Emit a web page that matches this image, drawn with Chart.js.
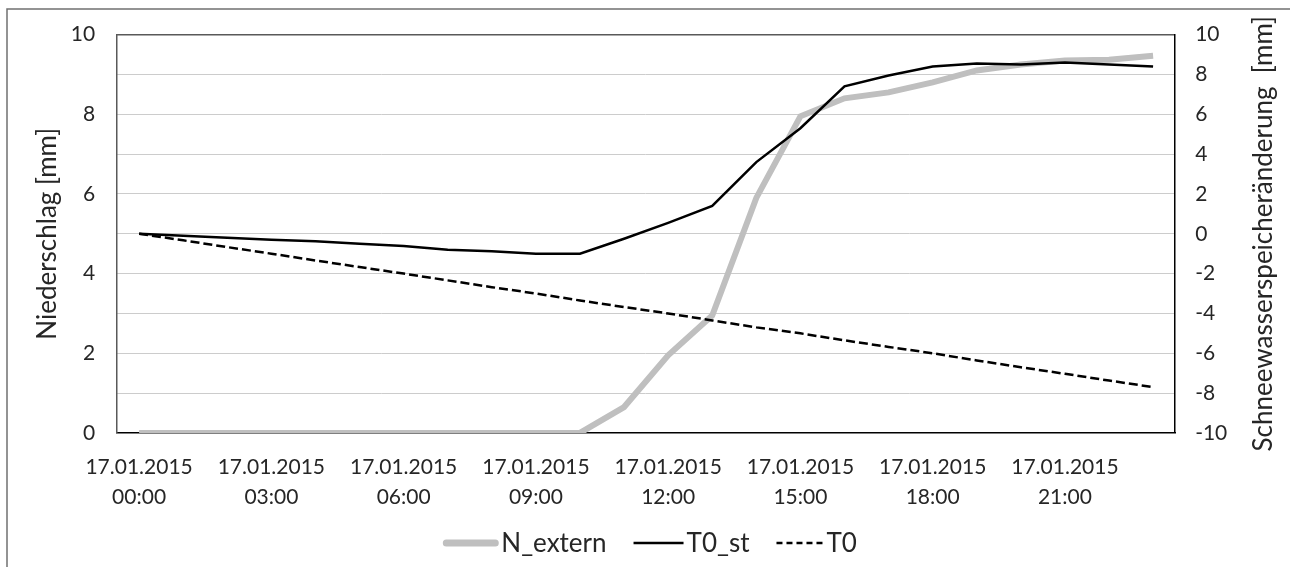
<!DOCTYPE html>
<html>
<head>
<meta charset="utf-8">
<script src="https://cdn.jsdelivr.net/npm/chart.js@4.4.1/dist/chart.umd.min.js"></script>
<style>
  html, body { margin: 0; padding: 0; background: #fff; }
  #wrap { width: 1290px; height: 567px; }
</style>
</head>
<body>
<div id="wrap"><canvas id="c" width="1290" height="567"></canvas></div>
<script>
// hourly values, 17.01.2015
const dateLabel = '17.01.2015';
const hours = ['00:00','01:00','02:00','03:00','04:00','05:00','06:00','07:00','08:00','09:00','10:00','11:00',
               '12:00','13:00','14:00','15:00','16:00','17:00','18:00','19:00','20:00','21:00','22:00','23:00'];

// left axis: Niederschlag [mm]
const nExtern = [0,0,0,0,0,0,0,0,0,0,0,0.65,1.95,2.95,5.9,7.95,8.4,8.55,8.8,9.1,9.25,9.35,9.37,9.47];

// right axis: Schneewasserspeicheränderung [mm]
const t0St = [0,-0.1,-0.2,-0.3,-0.38,-0.5,-0.62,-0.8,-0.88,-1.0,-1.0,-0.25,0.55,1.4,3.6,5.3,7.4,7.95,8.4,8.55,8.5,8.6,8.5,8.4];
const t0 = [0,-0.33,-0.67,-1.0,-1.34,-1.67,-2.0,-2.34,-2.68,-3.0,-3.35,-3.68,-4.0,-4.35,-4.7,-5.0,-5.35,-5.68,-6.0,-6.36,-6.7,-7.03,-7.37,-7.7];

const leftTitle = 'Niederschlag [mm]';
const rightTitle = 'Schneewasserspeicheränderung  [mm]';

const fontFam = 'Lato, "Open Sans", sans-serif';
const txt = '#262626';

// outer frame of the exported chart box
const framePlugin = {
  id: 'frame',
  beforeDraw(chart) {
    const ctx = chart.ctx;
    ctx.save();
    ctx.fillStyle = '#fff';
    ctx.fillRect(0, 0, chart.width, chart.height);
    ctx.strokeStyle = '#707070';
    ctx.lineWidth = 1.5;
    ctx.beginPath();
    ctx.moveTo(7, chart.height);
    ctx.lineTo(7, 9);
    ctx.lineTo(chart.width, 9);
    ctx.stroke();
    ctx.restore();
  }
};

// right title reads bottom-to-top like the left one (chart.js turns it the other way)
const rightTitlePlugin = {
  id: 'rightTitle',
  afterDraw(chart) {
    const s = chart.scales.y1;
    const ctx = chart.ctx;
    ctx.save();
    ctx.translate(s.right - 15.6, (s.top + s.bottom) / 2);
    ctx.rotate(-Math.PI / 2);
    ctx.font = '26px ' + fontFam;
    ctx.fillStyle = txt;
    ctx.textAlign = 'center';
    ctx.textBaseline = 'middle';
    ctx.fillText(rightTitle, 0, 0);
    ctx.restore();
  }
};

// legend like the excel one: line sample right next to its name
const legendPlugin = {
  id: 'xlLegend',
  afterDraw(chart) {
    const ctx = chart.ctx;
    const sets = chart.data.datasets;
    const lens = [55, 50, 47];
    ctx.save();
    ctx.font = '26px ' + fontFam;
    let total = 0;
    sets.forEach((d, i) => {
      total += lens[i] + 3 + ctx.measureText(d.label).width;
      if (i < sets.length - 1) total += 27;
    });
    const a = chart.chartArea;
    let x = (a.left + a.right) / 2 - total / 2 + 4;
    const y = 543;
    sets.forEach((d, i) => {
      ctx.beginPath();
      ctx.strokeStyle = d.borderColor;
      ctx.lineWidth = i === 0 ? 7 : 2.5;
      ctx.lineCap = i === 0 ? 'round' : 'butt';
      ctx.setLineDash(d.borderDash ? [6, 4] : []);
      ctx.moveTo(x + (i === 0 ? 3 : 0), y);
      ctx.lineTo(x + lens[i] - (i === 0 ? 3 : 0), y);
      ctx.stroke();
      x += lens[i] + 3;
      ctx.fillStyle = txt;
      ctx.textBaseline = 'middle';
      ctx.fillText(d.label, x, y + 1);
      x += ctx.measureText(d.label).width + 27;
    });
    ctx.restore();
  }
};

new Chart(document.getElementById('c'), {
  type: 'line',
  data: {
    labels: hours,
    datasets: [
      {
        label: 'N_extern',
        data: nExtern,
        yAxisID: 'y',
        borderColor: '#bfbfbf',
        backgroundColor: '#bfbfbf',
        borderWidth: 6,
        pointRadius: 0,
        tension: 0,
        order: 3
      },
      {
        label: 'T0_st',
        data: t0St,
        yAxisID: 'y1',
        borderColor: '#000',
        backgroundColor: '#000',
        borderWidth: 2.5,
        pointRadius: 0,
        tension: 0,
        order: 1
      },
      {
        label: 'T0',
        data: t0,
        yAxisID: 'y1',
        borderColor: '#000',
        backgroundColor: '#000',
        borderWidth: 2.5,
        borderDash: [9, 4],
        pointRadius: 0,
        tension: 0,
        order: 2
      }
    ]
  },
  options: {
    responsive: false,
    animation: false,
    layout: { padding: { left: 30, right: 11, top: 33, bottom: 36 } },
    plugins: {
      tooltip: { enabled: false },
      legend: { display: false }
    },
    scales: {
      x: {
        offset: true,
        grid: { display: false, drawTicks: false, offset: true },
        border: { display: true, color: '#000', width: 1.5 },
        ticks: {
          autoSkip: false,
          maxRotation: 0,
          padding: 19,
          color: txt,
          font: { family: fontFam, size: 21, lineHeight: 1.43 },
          callback: function (val, i) {
            return i % 3 === 0 ? [dateLabel, hours[i]] : '';
          }
        }
      },
      y: {
        position: 'left',
        min: 0,
        max: 10,
        grid: { display: false, drawTicks: false },
        border: { display: true, color: '#595959', width: 1.5 },
        ticks: { stepSize: 2, padding: 22, color: txt, font: { family: fontFam, size: 21 } },
        title: {
          display: true,
          text: leftTitle,
          color: txt,
          font: { family: fontFam, size: 26 },
          padding: { top: 2, bottom: -14.5 }
        }
      },
      y1: {
        position: 'right',
        min: -10,
        max: 10,
        grid: {
          drawTicks: false,
          color: ctx => ctx.tick.value === 10 ? '#595959' : '#cccccc',
          lineWidth: ctx => ctx.tick.value === 10 ? 1.5 : 1
        },
        border: { display: true, color: '#000', width: 1.5 },
        ticks: { stepSize: 2, padding: 20, color: txt, font: { family: fontFam, size: 21 } },
        title: {
          display: true,
          text: rightTitle,
          color: 'rgba(0,0,0,0)',
          font: { family: fontFam, size: 26 },
          padding: { top: 0, bottom: 0.5 }
        }
      }
    }
  },
  plugins: [framePlugin, rightTitlePlugin, legendPlugin]
});
</script>
</body>
</html>
